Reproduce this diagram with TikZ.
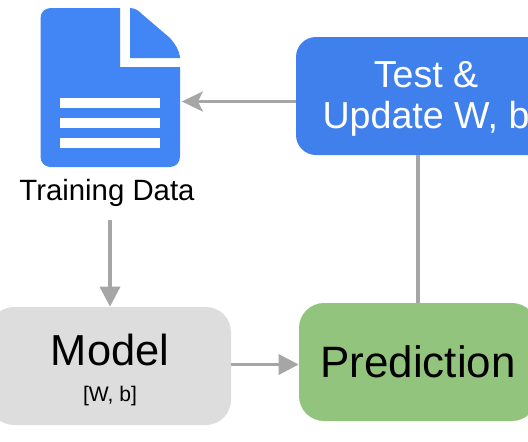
\documentclass[tikz,border=0pt]{standalone}
\usepackage{fontspec}
\setmainfont{Liberation Sans}
\usepackage{xcolor}
\usetikzlibrary{arrows.meta,positioning}
\definecolor{docblau}{RGB}{66,133,244}
\definecolor{testblau}{RGB}{64,128,236}
\definecolor{predgruen}{RGB}{147,196,125}
\definecolor{modelgrau}{RGB}{221,221,221}
\definecolor{linkgrau}{RGB}{166,166,166}
\begin{document}
\begin{tikzpicture}[
        box/.style={rounded corners=0.5cm, minimum height=2.36cm, inner sep=0pt, align=center},
        link/.style={draw=linkgrau, line width=0.07cm},
        head/.style={-{Triangle[length=0.4cm,width=0.4cm,fill=linkgrau]}},
        openhead/.style={-{Stealth[length=0.42cm,width=0.4cm,inset=0.1cm,fill=linkgrau]}}
    ]
        \useasboundingbox (0,0) rectangle (10.56,8.82);
        \clip (0,0) rectangle (10.56,8.82);
        % document icon
        \fill[docblau] (2.4,8.66) -- (1.01,8.66) arc (90:180:0.2) -- (0.81,5.68) arc (180:270:0.2) -- (3.4,5.48) arc (270:360:0.2) -- (3.6,7.48) -- (2.4,7.48) -- cycle;
        \fill[docblau] (2.6,8.66) .. controls (2.72,8.66) and (2.8,8.58) .. (2.86,8.52) -- (3.4,8.06) .. controls (3.5,7.95) and (3.58,7.82) .. (3.6,7.68) -- (3.6,7.66) -- (2.6,7.66) -- cycle;
        \foreach \y in {6.66,6.26,5.86}
            \fill[white] (1.2,\y) rectangle (3.2,\y+0.2);
        \node[minimum width=2.85cm, minimum height=3.18cm, inner sep=0pt] (data) at (2.205,7.07) {};
        \node[font=\fontsize{16.7pt}{18pt}\selectfont, inner sep=0pt] (label) at (2.14,4.97) {Training Data};
        \node[box, fill=modelgrau, minimum width=4.84cm, font=\fontsize{24.7pt}{20pt}\selectfont] (model) at (2.2,1.5) {\rule{0pt}{22.4pt}Model\\\fontsize{12pt}{20pt}\selectfont [W, b]};
        \node[box, fill=predgruen, minimum width=4.76cm, font=\fontsize{25pt}{28pt}\selectfont] (pred) at (8.36,1.58) {Prediction};
        \node[box, fill=testblau, text=white, rounded corners=0.4cm, minimum width=5.2cm, font=\fontsize{21.4pt}{23.4pt}\selectfont] (test) at (8.52,6.9) {\rule{0pt}{18pt}Test \&\\Update W, b};
        \draw[link,openhead] ([yshift=-0.11cm]test.west) -- ([yshift=-0.11cm]test.west -| data.east);
        \draw[link,head] ([yshift=-0.26cm]label.south -| model.north) -- (model.north);
        \draw[link,head] ([yshift=0.03cm]model.east) -- ([yshift=0.03cm]model.east -| pred.west);
        \draw[link] (pred.north) -- (pred.north |- test.south);
    \end{tikzpicture}
\end{document}
